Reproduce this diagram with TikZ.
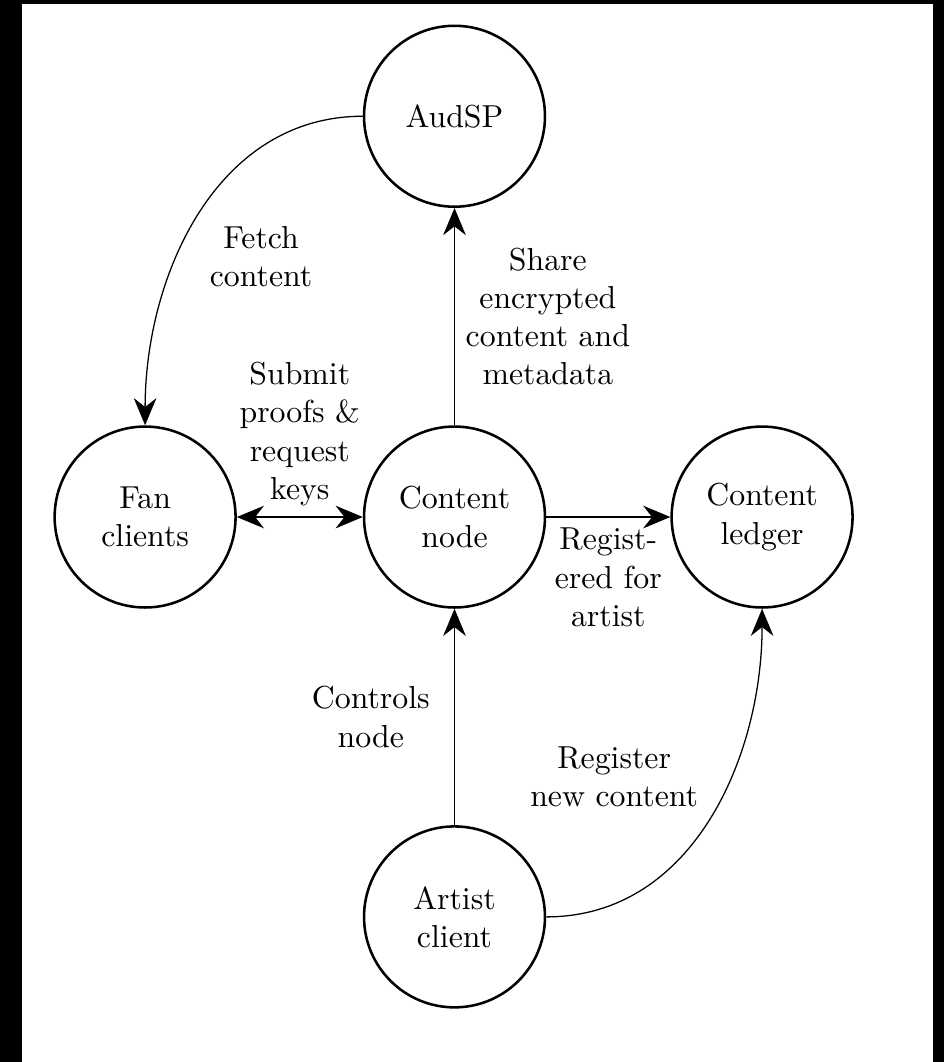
\documentclass[tikz,border=0pt]{standalone}
\usetikzlibrary{arrows.meta}
\begin{document}
\begin{tikzpicture}[>={Stealth[length=3mm,width=2.5mm]},
party/.style={draw,circle,thick,minimum size=2cm,align=center},
note/.style={align=center}]
\fill[black](-5.024,-6.024) rectangle (5.411,5.715);
\fill[white](-4.781,-6.024) rectangle (5.289,5.670);

\node[party] (cnode) at (0,0) {Content\\node};
\node[party] (audsp) at (0,4.43) {AudSP};
\node[party] (fan) at (-3.42,0) {Fan\\clients};
\node[party] (ledger) at (3.40,0) {Content\\ledger};
\node[party] (artist) at (0,-4.42) {Artist\\client};

\draw[->](audsp.west) to[out=180,in=90] node[note,midway,below right]{Fetch\\content} (fan.north);
\draw[<->](fan)--node[note,midway,above]{Submit\\proofs \&\\request\\keys}(cnode);
\draw[->](cnode)--node[note,midway,right]{Share\\encrypted\\content and\\metadata}(audsp);
\draw[->](cnode)--node[note,midway,below]{Regist-\\ered for\\artist}(ledger);
\draw[->](artist)--node[note,midway,left,xshift=-1.5mm]{Controls\\node}(cnode);
\draw[->](artist.east) to[out=0,in=270] node[note,midway,above left]{Register\\new content}(ledger.south);

\end{tikzpicture}
\end{document}
